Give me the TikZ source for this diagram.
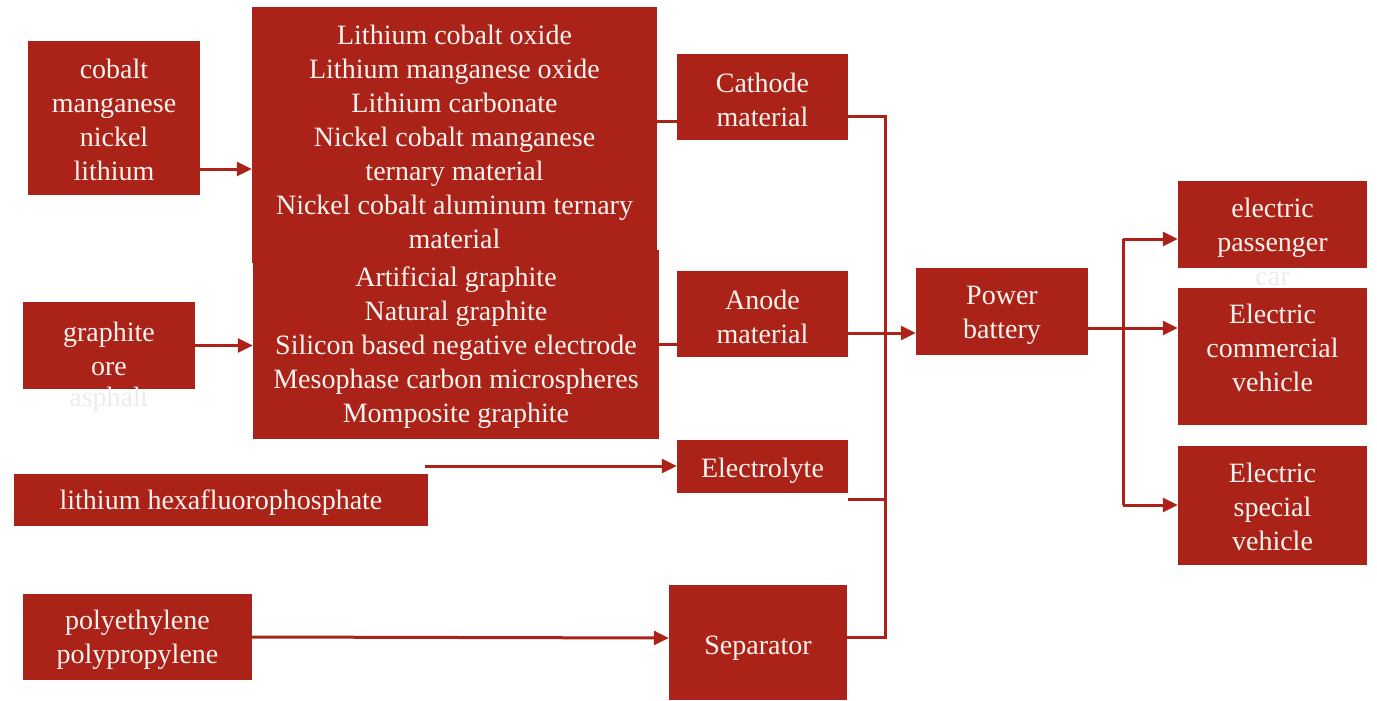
\documentclass[tikz,border=0pt]{standalone}
\usepackage{fontspec}
\setmainfont{Liberation Serif}
\usetikzlibrary{arrows.meta,calc}
\definecolor{brick}{RGB}{171,35,24}
\definecolor{paper}{RGB}{250,243,239}
\definecolor{ghost}{RGB}{236,236,236}
% caption text set into a named box: #1 box name, #2 downward offset, #3 text
\newcommand\boxcaption[3]{\node[boxtext] (#1text) at ($(#1.center)+(0,#2)$) {#3};}
\begin{document}
\begin{tikzpicture}[x=1pt,y=-1pt,
  box/.style={fill=brick, inner sep=0pt},
  boxtext/.style={text=paper, align=center, inner sep=0pt,
    font=\fontsize{28}{34}\selectfont},
  ghosttext/.style={text=ghost, inner sep=0pt, font=\fontsize{28}{34}\selectfont},
  link/.style={draw=brick, line width=3pt},
  arr/.style={link, -{Triangle[length=15pt,width=14pt]}},
]
\useasboundingbox (0,0) rectangle (1377,701);

% raw materials
\node[box, minimum width=172, minimum height=154] (raw) at (114,118) {};
\boxcaption{raw}{2}{cobalt\\manganese\\nickel\\lithium}
\node[box, minimum width=172, minimum height=87] (ore) at (109,345.5) {};
\boxcaption{ore}{3}{graphite\\ore}
\node[ghosttext] (oretail) at (109,400) {asphalt};
\node[box, minimum width=414, minimum height=52] (lipf) at (221,500) {};
\boxcaption{lipf}{3}{lithium hexafluorophosphate}
\node[box, minimum width=229, minimum height=86] (poly) at (137.5,637) {};
\boxcaption{poly}{3}{polyethylene\\polypropylene}

% intermediate products
\node[box, minimum width=405, minimum height=256] (cathsrc) at (454.5,135) {};
\boxcaption{cathsrc}{2}{Lithium cobalt oxide\\Lithium manganese oxide\\Lithium carbonate\\
   Nickel cobalt manganese\\ternary material\\
   Nickel cobalt aluminum ternary\\material}
\node[box, minimum width=406, minimum height=189] (anodsrc) at (456,344.5) {};
\boxcaption{anodsrc}{3}{Artificial graphite\\Natural graphite\\Silicon based negative electrode\\
   Mesophase carbon microspheres\\Momposite graphite}

% battery components
\node[box, minimum width=171, minimum height=86] (cathode) at (762.5,97) {};
\boxcaption{cathode}{3}{Cathode\\material}
\node[box, minimum width=171, minimum height=86] (anode) at (762.5,314) {};
\boxcaption{anode}{3}{Anode\\material}
\node[box, minimum width=171, minimum height=53] (electrolyte) at (762.5,466.5) {};
\boxcaption{electrolyte}{4}{Electrolyte}
\node[box, minimum width=178, minimum height=115] (separator) at (758,642.5) {};
\boxcaption{separator}{6}{Separator}

% battery and applications
\node[box, minimum width=172, minimum height=87] (power) at (1002,311.5) {};
\boxcaption{power}{4}{Power\\battery}
\node[box, minimum width=189, minimum height=87] (epc) at (1272.5,224.5) {};
\boxcaption{epc}{3}{electric\\passenger}
\node[ghosttext] (epctail) at (1272.5,279) {car};
\node[box, minimum width=189, minimum height=137] (ecv) at (1272.5,356.5) {};
\boxcaption{ecv}{-9}{Electric\\commercial\\vehicle}
\node[box, minimum width=189, minimum height=119] (esv) at (1272.5,505.5) {};
\boxcaption{esv}{1}{Electric\\special\\vehicle}

% connectors
\coordinate (lipfout) at (425,466);
\coordinate (busTop) at (885,116);
\coordinate (busBot) at (885,637);
\coordinate (fanTop) at (1123,239);
\coordinate (fanBot) at (1123,505);

\draw[arr] (raw.east |- 0,169) -- (cathsrc.west |- 0,169);
\draw[arr] (ore.east) -- (ore.east -| anodsrc.west);
\draw[arr] (lipfout) -- (electrolyte.west |- lipfout);
\draw[arr] (poly.east) -- (separator.west |- 0,638);

\draw[link] (cathsrc.east |- 0,121) -- (cathode.west |- 0,121);
\draw[link] (anodsrc.east |- 0,344) -- (anode.west |- 0,344);

\draw[link] (cathode.east |- busTop) -- (busTop) -- (busBot)
  -- (separator.east |- busBot);
\draw[link] (electrolyte.east |- 0,499) -- (busTop |- 0,499);
\draw[arr] (anode.east |- 0,333) -- (power.west |- 0,333);

\draw[arr] (power.east |- 0,328) -- (ecv.west |- 0,328);
\draw[link] (fanTop) -- (fanBot);
\draw[arr] (fanTop) -- (epc.west |- fanTop);
\draw[arr] (fanBot) -- (esv.west |- fanBot);
\end{tikzpicture}
\end{document}
